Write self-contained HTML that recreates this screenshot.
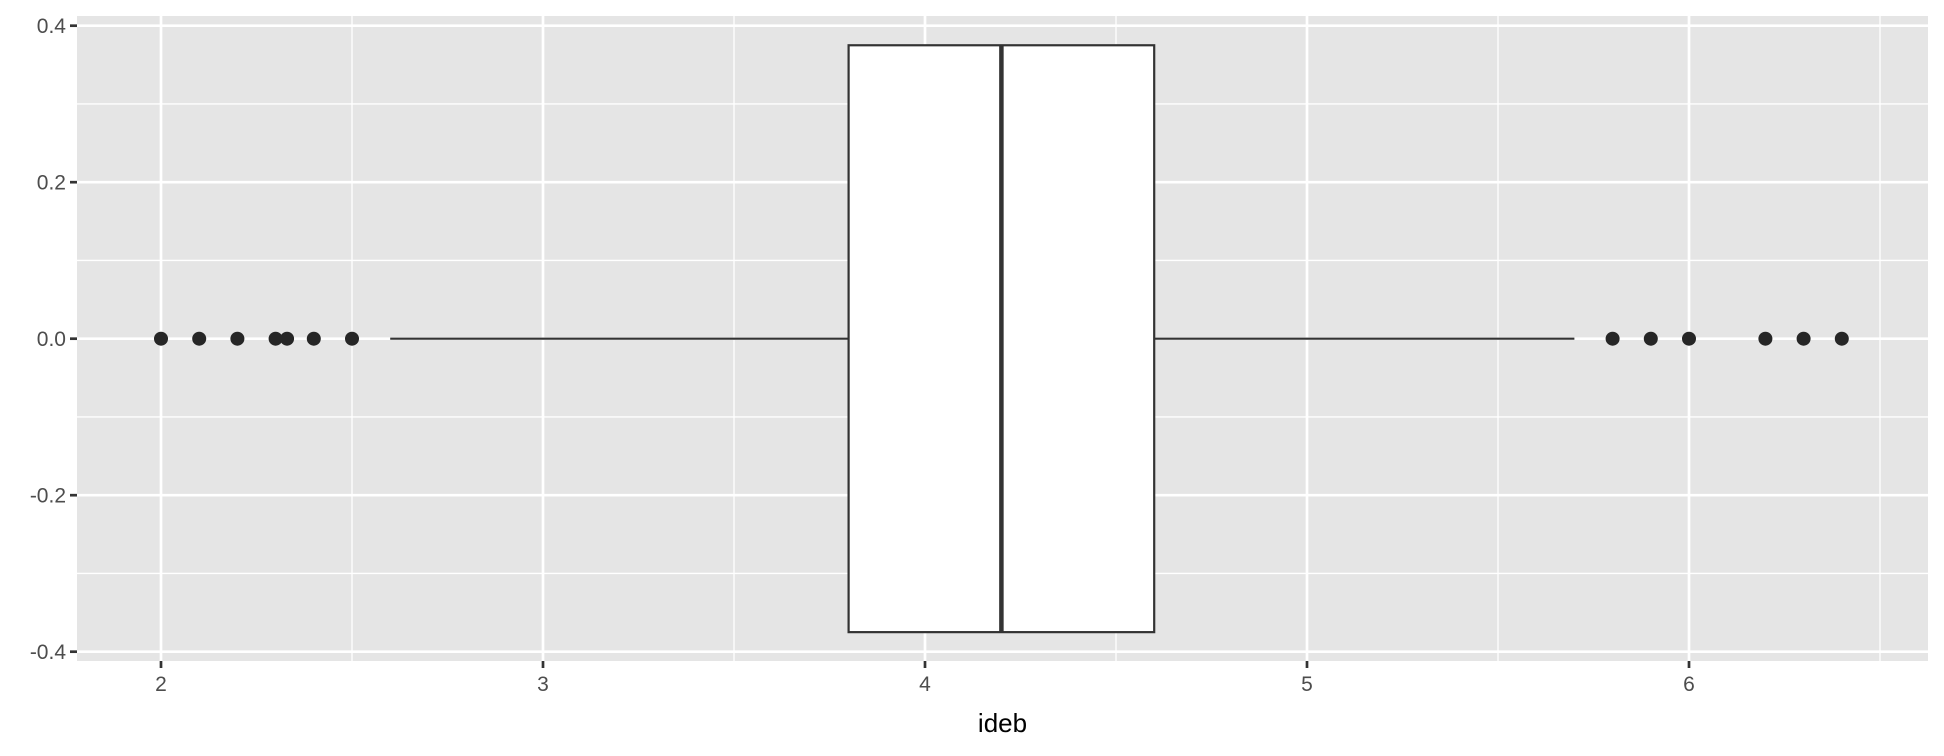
<!DOCTYPE html>
<html><head><meta charset="utf-8"><style>
html,body{margin:0;padding:0;background:#fff;}
svg{display:block;font-family:"Liberation Sans",Arial,sans-serif;}
</style></head><body>
<svg id="chart" width="1944" height="756"></svg>
<script>
const xTicks = [2, 3, 4, 5, 6];
const xMinor = [2.5, 3.5, 4.5, 5.5, 6.5];
const yTicks = [-0.4, -0.2, 0.0, 0.2, 0.4];
const yTickLabels = ["-0.4", "-0.2", "0.0", "0.2", "0.4"];
const yMinor = [-0.3, -0.1, 0.1, 0.3];
const boxStats = [3.8, 4.2, 4.6];
const whiskers = [2.6, 5.7];
const boxHalfWidth = [0.375];
const outliers = [2.0, 2.1, 2.2, 2.3, 2.33, 2.4, 2.5, 5.8, 5.9, 6.0, 6.2, 6.3, 6.4];

const NS = "http://www.w3.org/2000/svg";
const svg = document.getElementById("chart");
const P = {l: 77, r: 1928, t: 16, b: 661};
const X = v => 161 + (v - 2) * 382;
const Y = v => 338.7 - v * 782.5;
function mk(tag, attrs, parent) {
  const e = document.createElementNS(NS, tag);
  for (const k in attrs) e.setAttribute(k, attrs[k]);
  (parent || svg).appendChild(e);
  return e;
}
let e = mk("rect", {x: P.l, y: P.t, width: P.r - P.l, height: P.b - P.t, fill: "#e5e5e5"});


yMinor.forEach(v => { const g = mk("line", {x1: P.l, x2: P.r, y1: Y(v), y2: Y(v), stroke: "#fff", "stroke-width": 1.3});
  
   });
xMinor.forEach(v => { const g = mk("line", {x1: X(v), x2: X(v), y1: P.t, y2: P.b, stroke: "#fff", "stroke-width": 1.3});
  
   });
yTicks.forEach((v, i) => {
  const g = mk("line", {x1: P.l, x2: P.r, y1: Y(v), y2: Y(v), stroke: "#fff", "stroke-width": 2.7});
  
  
  const t = mk("line", {x1: P.l - 7, x2: P.l, y1: Y(v), y2: Y(v), stroke: "#333", "stroke-width": 2.7});
  
  
  const l = mk("text", {x: P.l - 11, y: Y(v) + 7.5, "text-anchor": "end", "font-size": 21, fill: "#4d4d4d"});
  l.textContent = yTickLabels[i];
  
  
});
xTicks.forEach(v => {
  const g = mk("line", {x1: X(v), x2: X(v), y1: P.t, y2: P.b, stroke: "#fff", "stroke-width": 2.7});
  
  
  const t = mk("line", {x1: X(v), x2: X(v), y1: P.b, y2: P.b + 7, stroke: "#333", "stroke-width": 2.7});
  
  
  const l = mk("text", {x: X(v), y: P.b + 30, "text-anchor": "middle", "font-size": 21, fill: "#4d4d4d"});
  l.textContent = String(v);
  
  
});
const w1 = mk("line", {x1: X(whiskers[0]), x2: X(boxStats[0]), y1: Y(0), y2: Y(0), stroke: "#333", "stroke-width": 2.2});


const w2 = mk("line", {x1: X(boxStats[2]), x2: X(whiskers[1]), y1: Y(0), y2: Y(0), stroke: "#333", "stroke-width": 2.2});


const box = mk("rect", {x: X(boxStats[0]), y: Y(boxHalfWidth[0]), width: X(boxStats[2]) - X(boxStats[0]), height: Y(-boxHalfWidth[0]) - Y(boxHalfWidth[0]), fill: "#fff", stroke: "#333", "stroke-width": 2.2});


const med = mk("line", {x1: X(boxStats[1]), x2: X(boxStats[1]), y1: Y(boxHalfWidth[0]), y2: Y(-boxHalfWidth[0]), stroke: "#333", "stroke-width": 4.5});


outliers.forEach(v => {
  const c = mk("circle", {cx: X(v), cy: Y(0), r: 7, fill: "#262626"});
  
  
});
const xt = mk("text", {x: (P.l + P.r) / 2, y: 732, "text-anchor": "middle", "font-size": 26, fill: "#000"});
xt.textContent = "ideb";


</script>
</body></html>
